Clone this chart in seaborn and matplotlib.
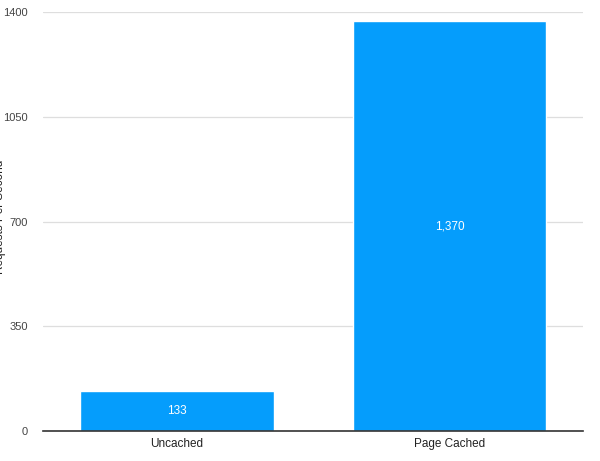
import numpy as np
import pandas as pd
import matplotlib
matplotlib.use("Agg")
from matplotlib import pyplot as plt
import seaborn as sns

# data
categories = ["Uncached", "Page Cached"]
requests_per_second = [133, 1370]
y_ticks = [0, 350, 700, 1050, 1400]

df = pd.DataFrame({"setup": categories, "rps": requests_per_second})

sns.set_theme(style="white")
plt.rcParams['font.family'] = ['Liberation Sans', 'DejaVu Sans']

fig = plt.figure(figsize=(6, 4.61), dpi=100)
ax = fig.add_axes([0.072, 0.065, 0.9, 0.909])

sns.barplot(data=df, x="setup", y="rps", color="#059dfc", saturation=1,
            width=0.71, ax=ax, zorder=2)

ax.set_ylim(0, 1400)
ax.set_xlim(-0.49, 1.49)
ax.set_yticks(y_ticks)
ax.set_yticklabels([str(t) for t in y_ticks])
ax.yaxis.grid(True, color="#dedede", linewidth=0.9, zorder=0)
ax.set_axisbelow(True)

for side in ["top", "right", "left"]:
    ax.spines[side].set_visible(False)
ax.spines["bottom"].set_color("#333333")
ax.spines["bottom"].set_linewidth(1.2)
ax.spines["bottom"].set_zorder(3)

ax.tick_params(axis="y", length=0, pad=11, labelsize=8, labelcolor="#444444")
ax.tick_params(axis="x", length=0, pad=5, labelsize=8.5, labelcolor="#222222")
ax.set_xlabel("")
ax.set_ylabel("")

# value labels in the middle of each bar
for i, v in enumerate(requests_per_second):
    ax.text(i, v / 2, f"{v:,}", ha="center", va="center", color="white",
            fontsize=8.5, zorder=4)

fig.text(0.0, 0.53, "Requests Per Second", rotation=90, ha="center",
         va="center", fontsize=8.5, color="#222222")

plt.savefig("out.png", dpi=100)
